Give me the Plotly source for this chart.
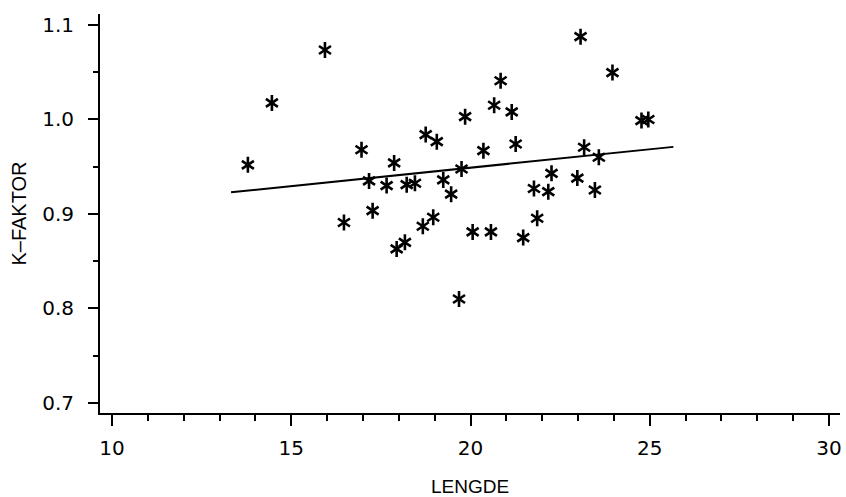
import plotly.graph_objects as go

lengde = [13.79, 14.46, 15.94, 16.47, 16.96, 17.17, 17.27, 17.66, 17.87, 17.94,
          18.17, 18.22, 18.45, 18.67, 18.75, 18.96, 19.06, 19.24, 19.46, 19.68,
          19.75, 19.85, 20.06, 20.36, 20.57, 20.66, 20.84, 21.15, 21.26, 21.47,
          21.77, 21.86, 22.17, 22.26, 22.98, 23.07, 23.17, 23.47, 23.58, 23.96,
          24.77, 24.96]
k_faktor = [0.952, 1.0175, 1.0735, 0.891, 0.968, 0.935, 0.9035, 0.930, 0.954, 0.863,
            0.870, 0.931, 0.9325, 0.887, 0.984, 0.8965, 0.9765, 0.936, 0.921, 0.810,
            0.9476, 1.003, 0.881, 0.967, 0.881, 1.015, 1.041, 1.008, 0.974, 0.875,
            0.927, 0.8955, 0.9236, 0.943, 0.938, 1.0876, 0.9706, 0.9254, 0.960, 1.0496,
            0.9988, 1.000]

line_x = [13.32, 25.66]
line_y = [0.923, 0.971]

x_ticks = [10, 15, 20, 25, 30]
y_ticks = [0.7, 0.8, 0.9, 1.0, 1.1]

fig = go.Figure()
fig.add_trace(go.Scatter(x=line_x, y=line_y, mode="lines",
                         line=dict(color="black", width=2), hoverinfo="skip"))
for sym in ["y-up-open", "y-down-open"]:
    fig.add_trace(go.Scatter(x=lengde, y=k_faktor, mode="markers",
                             marker=dict(symbol=sym, size=10, color="black",
                                         line=dict(color="black", width=2.6))))

axis_common = dict(showgrid=False, zeroline=False, showline=True, linecolor="black",
                   linewidth=2, ticks="outside", tickcolor="black", tickwidth=2,
                   automargin=False,
                   tickfont=dict(family="DejaVu Sans", size=20, color="black"))

fig.update_layout(
    width=846, height=497,
    margin=dict(l=100, r=6, t=14, b=84),
    paper_bgcolor="white", plot_bgcolor="white",
    showlegend=False,
    xaxis=dict(range=[9.665, 30.307], tickvals=x_ticks, ticklen=11,
               ticklabelstandoff=5,
               minor=dict(dtick=1, tick0=0, ticklen=6, ticks="outside",
                          tickcolor="black", tickwidth=2),
               title=dict(text="LENGDE", standoff=22,
                          font=dict(family="Liberation Sans", size=19, color="black")),
               **axis_common),
    yaxis=dict(range=[0.6894, 1.1116], tickvals=y_ticks, tickformat=".1f", ticklen=10,
               ticklabelstandoff=10,
               minor=dict(dtick=0.05, tick0=0, ticklen=5, ticks="outside",
                          tickcolor="black", tickwidth=2),
               title=dict(text="K–FAKTOR", standoff=10,
                          font=dict(family="Liberation Sans", size=20, color="black")),
               **axis_common),
)

fig.write_html(
    "out.html",
    config={"displayModeBar": False},
    post_script="document.body.style.margin='0';"
                "document.body.style.overflow='hidden';"
                "document.documentElement.style.overflow='hidden';",
)
